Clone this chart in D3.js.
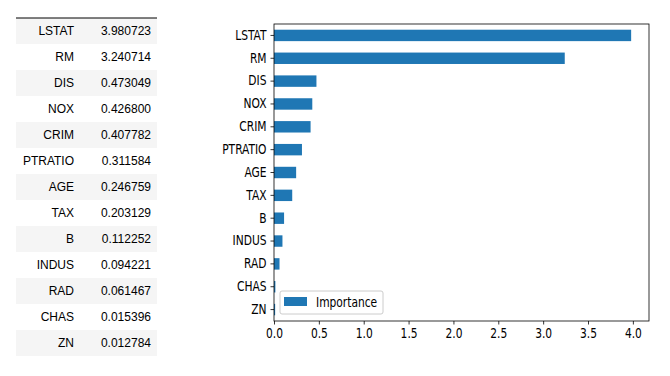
<!DOCTYPE html>
<html>
<head>
<meta charset="utf-8">
<script src="https://cdn.jsdelivr.net/npm/d3@7"></script>
<style>
  body { margin: 0; background: #fff; }
  svg { display: block; }
</style>
</head>
<body>
<div id="chart"></div>
<script>
/* Feature importance: table on the left, horizontal bars on the right */

const features = ["LSTAT", "RM", "DIS", "NOX", "CRIM", "PTRATIO", "AGE", "TAX", "B", "INDUS", "RAD", "CHAS", "ZN"];
const importance = [3.980723, 3.240714, 0.473049, 0.426800, 0.407782, 0.311584, 0.246759, 0.203129, 0.112252, 0.094221, 0.061467, 0.015396, 0.012784];
const xTicks = [0, 0.5, 1, 1.5, 2, 2.5, 3, 3.5, 4];

const width = 670,
      height = 376,
      margin = ({ top: 24, right: 21, bottom: 55, left: 274 });

let svg = d3.select("#chart")
    .append("svg")
    .attr("width", width)
    .attr("height", height);

/* table */
const table = { x0: 16, x1: 157, top: 18, rowH: 26 };

let rows = svg.append("g")
    .selectAll("g")
    .data(features)
    .join("g")
    .attr("transform", (d, i) => `translate(0,${table.top + i * table.rowH})`);

rows.append("rect")
    .attr("x", table.x0)
    .attr("width", table.x1 - table.x0)
    .attr("height", table.rowH)
    .attr("fill", (d, i) => i % 2 === 0 ? "#f5f5f5" : "#fff");

rows.append("text")
    .attr("x", 74)
    .attr("y", table.rowH / 2)
    .attr("dy", "0.35em")
    .attr("text-anchor", "end")
    .style("font-family", "Liberation Sans, Arial, sans-serif")
    .style("font-size", "12px")
    .text(d => d);

rows.append("text")
    .attr("x", 151)
    .attr("y", table.rowH / 2)
    .attr("dy", "0.35em")
    .attr("text-anchor", "end")
    .style("font-family", "Liberation Sans, Arial, sans-serif")
    .style("font-size", "12px")
    .text((d, i) => importance[i].toFixed(6));

svg.append("line") // header rule
    .attr("x1", table.x0).attr("x2", table.x1)
    .attr("y1", table.top).attr("y2", table.top)
    .attr("stroke", "#000")
    .attr("stroke-width", 1);

/* bar chart */
let x = d3.scaleLinear()
    .domain([0, d3.max(importance) * 1.05])
    .range([margin.left, width - margin.right]);

let y = d3.scaleBand()
    .domain(features)
    .range([margin.top, height - margin.bottom])
    .paddingInner(0.5)
    .paddingOuter(0.25);

svg.append("g")
    .selectAll("rect")
    .data(features)
    .join("rect")
    .attr("fill", "#1f77b4")
    .attr("x", x(0))
    .attr("y", d => y(d))
    .attr("width", (d, i) => x(importance[i]) - x(0))
    .attr("height", y.bandwidth());

const axisFont = "DejaVu Sans Condensed, DejaVu Sans, sans-serif";
const squeeze = "scale(0.88,1)"; // the picture's labels are narrower than the font

let xAxis = svg.append("g")
    .attr("transform", `translate(0,${height - margin.bottom})`)
    .call(d3.axisBottom(x).tickValues(xTicks).tickFormat(d3.format(".1f")).tickSize(3.5).tickPadding(3.5));

let yAxis = svg.append("g")
    .attr("transform", `translate(${margin.left},0)`)
    .call(d3.axisLeft(y).tickSize(3.5).tickPadding(3.5));

for (let ax of [xAxis, yAxis]) {
    ax.select(".domain").remove();
    ax.selectAll(".tick line").attr("stroke", "#000").attr("stroke-width", 0.8);
    ax.selectAll(".tick text")
        .style("font-family", axisFont)
        .style("font-size", "13.5px")
        .attr("transform", squeeze)
        .attr("fill", "#000");
}
yAxis.selectAll(".tick text").attr("x", -8.5);

// frame around the plot
svg.append("rect")
    .attr("x", margin.left)
    .attr("y", margin.top)
    .attr("width", width - margin.right - margin.left)
    .attr("height", height - margin.bottom - margin.top)
    .attr("fill", "none")
    .attr("stroke", "#000")
    .attr("stroke-width", 0.8);

// legend
let legend = svg.append("g")
    .attr("transform", `translate(${margin.left + 6},${height - margin.bottom - 30})`);

legend.append("rect")
    .attr("width", 103)
    .attr("height", 23)
    .attr("rx", 2)
    .attr("fill", "#fff")
    .attr("fill-opacity", 0.8)
    .attr("stroke", "#ccc");

legend.append("rect")
    .attr("x", 4)
    .attr("y", 6)
    .attr("width", 23)
    .attr("height", 9)
    .attr("fill", "#1f77b4");

legend.append("text")
    .attr("transform", "translate(36,11.5) scale(0.88,1)")
    .attr("dy", "0.35em")
    .style("font-family", axisFont)
    .style("font-size", "13.5px")
    .text("Importance");
</script>
</body>
</html>
